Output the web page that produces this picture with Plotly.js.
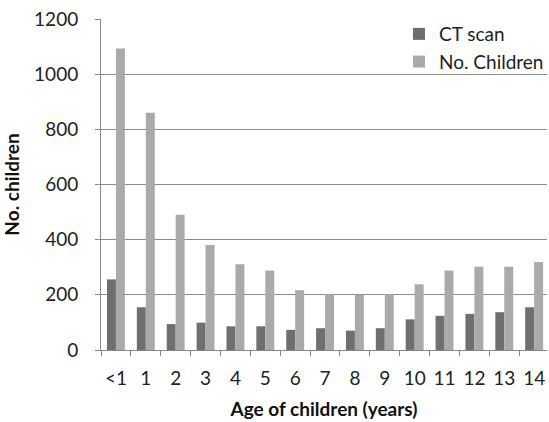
<!DOCTYPE html>
<html>
<head>
<meta charset="utf-8">
<script src="https://cdn.plot.ly/plotly-3.0.1.min.js"></script>
<style>html,body{margin:0;padding:0;background:#fff;}#chart{width:549px;height:422px;}</style>
</head>
<body>
<div id="chart"></div>
<script>
var ageCategories = ["<1","1","2","3","4","5","6","7","8","9","10","11","12","13","14"];
var ctScan = [256,155,94,99,86,86,73,79,70,79,111,124,131,137,155];
var noChildren = [1093,860,490,381,311,288,217,202,200,203,238,288,302,302,319];
var yTickValues = [0,200,400,600,800,1000,1200];

var fontFam = "Lato, sans-serif";
var traces = [
  {type:"bar", name:"CT scan", x:ageCategories, y:ctScan,
   marker:{color:"#6f6f6f", line:{width:0}}},
  {type:"bar", name:"No. Children", x:ageCategories, y:noChildren,
   marker:{color:"#aaaaaa", line:{width:0}}}
];
var layout = {
  width:549, height:422,
  margin:{l:101, r:0, t:19, b:72},
  paper_bgcolor:"#fff", plot_bgcolor:"#fff",
  font:{family:fontFam, size:19, color:"#222"},
  barmode:"group", bargap:0.4, bargroupgap:0,
  showlegend:true,
  legend:{x:1.005, xanchor:"right", y:1.012, yanchor:"top", bgcolor:"rgba(255,255,255,0)",
          font:{family:fontFam, size:19, color:"#222"}, tracegroupgap:0, itemwidth:30},
  xaxis:{type:"category", range:[-0.5, 14.43], tickson:"boundaries", ticks:"outside", ticklen:5,
         tickcolor:"#888", showline:true, linecolor:"#888", linewidth:1, showgrid:false,
         tickangle:0, automargin:false, ticklabelstandoff:11,
         title:{text:"<b>Age of children (years)</b>", font:{family:fontFam, size:19, color:"#111"}, standoff:14},
         fixedrange:true},
  yaxis:{range:[0,1200], tickvals:yTickValues, ticks:"outside", ticklen:5, tickcolor:"#888",
         showline:true, linecolor:"#888", linewidth:1, showgrid:true, gridcolor:"#8c8c8c", gridwidth:1,
         zeroline:false, ticklabelstandoff:13,
         title:{text:"<b>No. children</b>", font:{family:fontFam, size:19, color:"#111"}, standoff:15},
         fixedrange:true}
};
Plotly.newPlot("chart", traces, layout, {displayModeBar:false, staticPlot:true});
</script>
</body>
</html>
